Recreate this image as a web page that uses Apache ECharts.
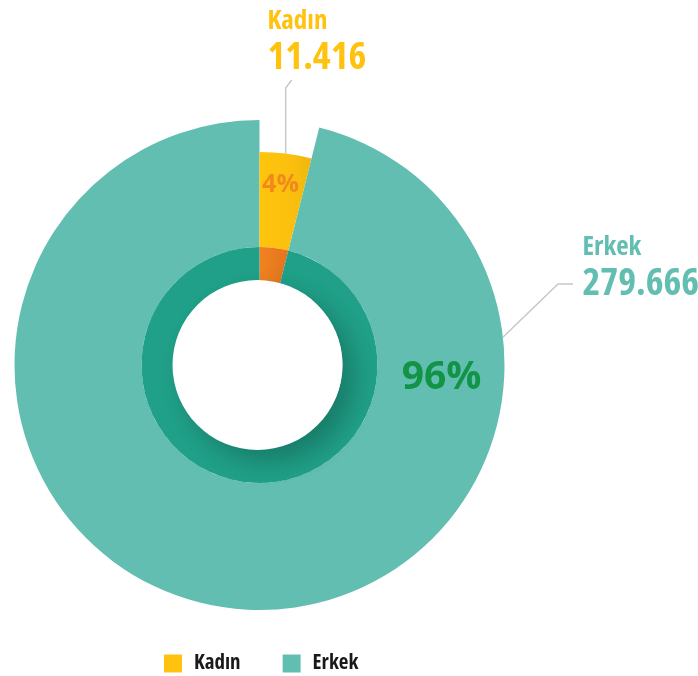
<!DOCTYPE html>
<html>
<head>
<meta charset="utf-8">
<script src="https://cdn.jsdelivr.net/npm/echarts@6/dist/echarts.min.js"></script>
<style>
  html, body { margin: 0; padding: 0; background: #fff; }
  #chart { width: 698px; height: 676px; }
</style>
</head>
<body>
<div id="chart"></div>
<script>
// veriler
const categories = ['Kadın', 'Erkek'];
const counts = [11416, 279666];
const outerColors = ['#FFC20E', '#63BEB2'];
const ringColors = ['#F07E1F', '#20A088'];

const FONT = "'Open Sans', Roboto, sans-serif";
const BOLD = 'bold condensed'; // dar yazı
const cx = 259.5, cy = 365; // merkez
const R_HOLE = 85, R_RING = 118, R_KADIN = 213, R_ERKEK = 245;

function fmt(n) { // 11416 -> 11.416
  return String(n).replace(/\B(?=(\d{3})+(?!\d))/g, '.');
}
function pct(p) { return Math.round(p.percent) + '%'; }
function pt(r, deg) { // derece, tepeden saat yönünde
  const a = deg * Math.PI / 180;
  return [cx + r * Math.sin(a), cy - r * Math.cos(a)];
}
const total = counts[0] + counts[1];
const kadinMid = counts[0] / total * 180;

const chart = echarts.init(document.getElementById('chart'));

const option = {
  animation: false,
  legend: {
    left: 164,
    top: 653,
    padding: 0,
    itemWidth: 18,
    itemHeight: 18,
    itemGap: 42,
    icon: 'rect',
    selectedMode: false,
    textStyle: { fontFamily: FONT, fontWeight: BOLD, fontSize: 21, color: '#1a1a1a', padding: [0, 0, 0, 7] },
    data: categories.map((c, i) => ({ name: c, itemStyle: { color: outerColors[i] } }))
  },
  series: [
    { // dış halka Erkek + yüzde etiketleri
      type: 'pie',
      silent: true,
      center: [cx, cy],
      radius: [R_RING, R_ERKEK],
      startAngle: 90,
      clockwise: true,
      label: {
        show: true,
        position: 'inside',
        formatter: pct,
        fontFamily: FONT,
        fontWeight: 'bold'
      },
      labelLine: { show: false },
      labelLayout: function (params) {
        if (params.dataIndex === 0) {
          return { x: cx + 21, y: cy - 180, align: 'center', verticalAlign: 'middle' };
        }
        if (params.dataIndex === 1) {
          return { x: cx + 182, y: cy + 13, align: 'center', verticalAlign: 'middle' };
        }
      },
      data: [
        { value: counts[0], name: categories[0], itemStyle: { color: 'rgba(0,0,0,0)' },
          label: { fontSize: 25, color: 'rgba(238,128,30,0.85)' } },
        { value: counts[1], name: categories[1], itemStyle: { color: outerColors[1] },
          label: { fontSize: 39, color: '#129447' } }
      ]
    },
    { // Kadın dilimi
      type: 'pie',
      silent: true,
      center: [cx, cy],
      radius: [R_RING, R_KADIN],
      startAngle: 90,
      clockwise: true,
      labelLine: { show: true, lineStyle: { color: '#c8c8c8', width: 1.5 } },
      labelLayout: function (params) {
        if (params.dataIndex === 0) {
          const p0 = pt(R_KADIN, kadinMid);
          return {
            x: cx + 8, y: cy - 359, align: 'left', verticalAlign: 'top',
            labelLinePoints: [p0, [p0[0], cy - 277], [p0[0] + 6, cy - 285]]
          };
        }
      },
      data: [
        { value: counts[0], name: categories[0],
          itemStyle: { color: new echarts.graphic.LinearGradient(0, 0, 1, 0, [
            { offset: 0, color: '#FFC40C' }, { offset: 0.6, color: '#FBC00E' }, { offset: 1, color: '#EFB70F' }]) },
          label: {
            show: true,
            formatter: '{n|{b}}\n{v|' + fmt(counts[0]) + '}',
            rich: {
              n: { fontFamily: FONT, fontWeight: BOLD, fontSize: 27, color: outerColors[0], lineHeight: 31 },
              v: { fontFamily: FONT, fontWeight: BOLD, fontSize: 38, color: outerColors[0], lineHeight: 42 }
            }
          } },
        { value: counts[1], name: categories[1], itemStyle: { color: 'rgba(0,0,0,0)' },
          label: { show: false }, labelLine: { show: false } }
      ]
    },
    { // iç koyu halka
      type: 'pie',
      silent: true,
      center: [cx, cy],
      radius: [R_HOLE - 2, R_RING],
      startAngle: 90,
      clockwise: true,
      labelLine: { show: true, lineStyle: { color: '#c8c8c8', width: 1.5 } },
      labelLayout: function (params) {
        if (params.dataIndex === 1) {
          const p0 = pt(R_ERKEK, 83.5);
          return {
            x: cx + 323, y: cy - 133, align: 'left', verticalAlign: 'top',
            labelLinePoints: [p0, [cx + 298.5, cy - 81], [cx + 313.5, cy - 81]]
          };
        }
      },
      data: [
        { value: counts[0], name: categories[0],
          itemStyle: { color: new echarts.graphic.LinearGradient(0, 0, 1, 0, [
            { offset: 0, color: '#F3821E' }, { offset: 1, color: '#E2741F' }]) },
          label: { show: false }, labelLine: { show: false } },
        { value: counts[1], name: categories[1], itemStyle: { color: ringColors[1] },
          label: {
            show: true,
            formatter: '{n|{b}}\n{v|' + fmt(counts[1]) + '}',
            rich: {
              n: { fontFamily: FONT, fontWeight: BOLD, fontSize: 27, color: outerColors[1], lineHeight: 31 },
              v: { fontFamily: FONT, fontWeight: BOLD, fontSize: 38, color: outerColors[1], lineHeight: 42 }
            }
          } }
      ]
    },
    { // beyaz orta daire, gölgeli
      type: 'pie',
      silent: true,
      center: [cx - 2, cy],
      radius: [0, R_HOLE],
      label: { show: false },
      labelLine: { show: false },
      itemStyle: {
        color: '#fff',
        shadowBlur: 26,
        shadowOffsetX: 12,
        shadowOffsetY: 12,
        shadowColor: 'rgba(0,30,20,0.28)'
      },
      data: [{ value: 1, name: 'bos' }]
    }
  ]
};

chart.setOption(option);
</script>
</body>
</html>
